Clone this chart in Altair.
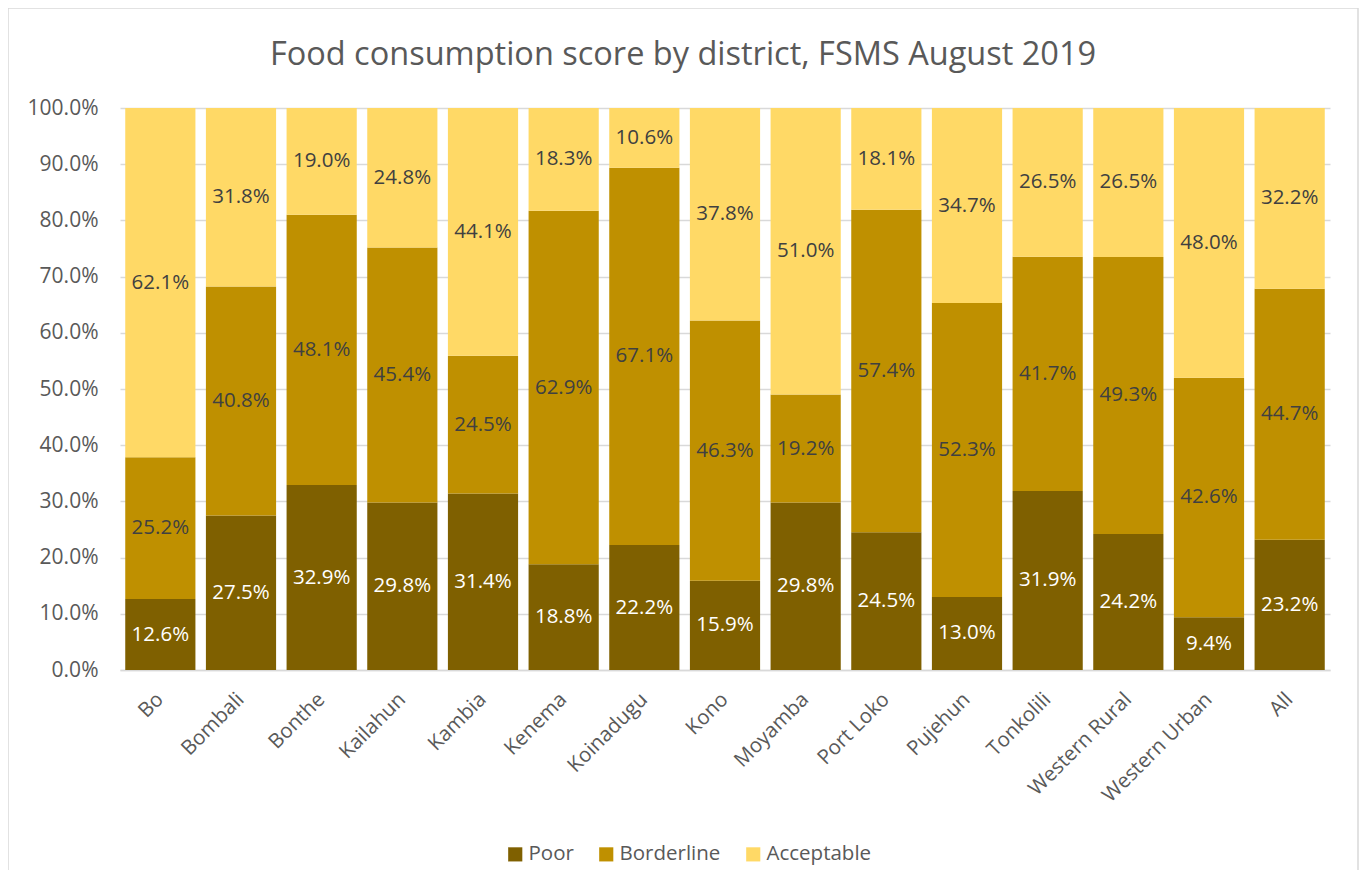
import altair as alt
import pandas as pd

districts = ["Bo", "Bombali", "Bonthe", "Kailahun", "Kambia", "Kenema", "Koinadugu",
             "Kono", "Moyamba", "Port Loko", "Pujehun", "Tonkolili", "Western Rural",
             "Western Urban", "All"]
poor = [12.6, 27.5, 32.9, 29.8, 31.4, 18.8, 22.2, 15.9, 29.8, 24.5, 13.0, 31.9, 24.2, 9.4, 23.2]
borderline = [25.2, 40.8, 48.1, 45.4, 24.5, 62.9, 67.1, 46.3, 19.2, 57.4, 52.3, 41.7, 49.3, 42.6, 44.7]
acceptable = [62.1, 31.8, 19.0, 24.8, 44.1, 18.3, 10.6, 37.8, 51.0, 18.1, 34.7, 26.5, 26.5, 48.0, 32.2]
categories = ["Poor", "Borderline", "Acceptable"]
bar_colors = ["#7F6000", "#BF9000", "#FFD966"]
text_colors = ["#FFFFFF", "#404040", "#404040"]
y_ticks = [i / 10 for i in range(11)]

rows = []
for i, d in enumerate(districts):
    for j, vals in enumerate([poor, borderline, acceptable]):
        rows.append({"district": d, "category": categories[j], "order": j,
                     "value": vals[i], "tcolor": text_colors[j]})
df = pd.DataFrame(rows)

FONT = "Open Sans"
GRAY = "#595959"

base = alt.Chart(df).transform_stack(
    stack="value", groupby=["district"], sort=[alt.SortField("order")],
    as_=["v0", "v1"], offset="normalize"
).transform_calculate(
    mid="(datum.v0 + datum.v1) / 2",
    label="format(datum.value, '.1f') + '%'"
)

x_enc = alt.X("district:N", sort=districts, title=None,
              scale=alt.Scale(paddingInner=0.13, paddingOuter=0.065),
              axis=alt.Axis(labelAngle=-45, labelAlign="right", labelBaseline="middle",
                            labelFontSize=20.5, labelColor=GRAY, labelFont=FONT,
                            ticks=False, labelPadding=26, domainColor="#d9d9d9",
                            domainWidth=1.5, grid=False))

bars = base.mark_bar().encode(
    x=x_enc,
    y=alt.Y("v0:Q", title=None, scale=alt.Scale(domain=[0, 1]),
            axis=alt.Axis(values=y_ticks, format=".1%", labelFontSize=21,
                          labelColor=GRAY, labelFont=FONT, ticks=False, domain=False,
                          gridColor="#d9d9d9", gridWidth=1.5, labelPadding=22)),
    y2="v1:Q",
    color=alt.Color("category:N", sort=categories,
                    scale=alt.Scale(domain=categories, range=bar_colors),
                    legend=alt.Legend(orient="none", direction="horizontal", title=None,
                                      legendX=385, legendY=736, symbolType="square",
                                      symbolSize=200, symbolStrokeWidth=0,
                                      labelFontSize=20.5, labelFont=FONT, labelColor=GRAY,
                                      columnPadding=22, labelOffset=3)),
    order=alt.Order("order:Q")
)

labels = base.mark_text(fontSize=20.5, font=FONT).encode(
    x=alt.X("district:N", sort=districts),
    y=alt.Y("mid:Q"),
    text="label:N",
    color=alt.Color("tcolor:N", scale=None, legend=None)
)

frame = alt.Chart(pd.DataFrame({"a": [0]})).mark_rect(
    fill=None, stroke="#d9d9d9", strokeWidth=1.5
).encode(x=alt.value(-112), x2=alt.value(1238), y=alt.value(-100), y2=alt.value(800))

chart = alt.layer(frame, bars, labels).resolve_scale(color="independent").properties(
    width=1210, height=562,
    title=alt.TitleParams("Food consumption score by district, FSMS August 2019",
                          fontSize=32.5, font=FONT, color=GRAY, fontWeight="normal",
                          anchor="middle", dx=-42, offset=-90, baseline="alphabetic"),
    autosize=alt.AutoSizeParams(type="none"),
    padding={"left": 112, "top": 100, "right": 30, "bottom": 200}
).configure_view(stroke=None)

chart.save("out.html", embed_options={"renderer": "svg", "actions": False})
